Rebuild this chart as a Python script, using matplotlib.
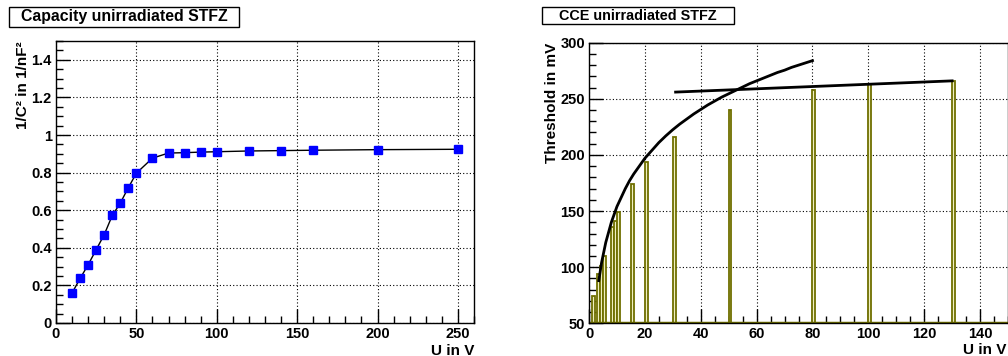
import numpy as np
import matplotlib
matplotlib.use('Agg')
import matplotlib.pyplot as plt
from matplotlib.patches import Rectangle
from matplotlib.ticker import MultipleLocator

plt.rcParams['font.family'] = ['Liberation Sans', 'DejaVu Sans']
plt.rcParams['font.weight'] = 'bold'
plt.rcParams['font.size'] = 10.5

# capacity measurement (left)
cap_u = [10, 15, 20, 25, 30, 35, 40, 45, 50, 60, 70, 80, 90, 100, 120, 140, 160, 200, 250]
cap_val = [0.16, 0.237, 0.31, 0.39, 0.47, 0.572, 0.638, 0.72, 0.797, 0.877, 0.904, 0.906,
           0.909, 0.911, 0.915, 0.917, 0.919, 0.922, 0.924]

# CCE threshold histogram (right), bin left edges and contents
cce_u = [1, 3, 4, 5, 8, 9, 10, 15, 20, 30, 50, 80, 100, 130]
cce_val = [74, 93.5, 101, 110, 136, 141, 149, 174, 194, 216, 240, 258, 263, 266]

# fitted curves
fit1_u = [3.5, 4, 4.5, 5, 6, 7, 8, 9, 10, 11.5, 13, 14.5, 16, 18, 20, 22.5, 25, 27.5, 30,
          32.5, 35, 37.5, 40, 42.5, 45, 47.5, 50, 52.5, 55, 57.5, 60, 62.5, 65, 67.5, 70,
          72.5, 75, 77.5, 80]
fit1_val = [88, 96, 104, 110, 122, 131, 140, 147, 154, 162, 170, 177, 183, 190, 197, 204,
            211, 217, 222.5, 227.5, 232, 236.5, 240.5, 244.5, 248, 251.5, 254.5, 257.5,
            260.5, 263.5, 266, 268.5, 271, 273.5, 275.5, 278, 280, 282, 284]
fit2_u = [31, 130]
fit2_val = [256, 266]

olive = '#6f6f00'
fill = '#efefc0'

fig = plt.figure(figsize=(10.08, 3.56), dpi=100)
W, H = 1008.0, 356.0


def title_box(x0, x1, y0, y1, text, size):
    fig.patches.append(Rectangle((x0 / W, 1 - y1 / H), (x1 - x0) / W, (y1 - y0) / H,
                                 transform=fig.transFigure, fc='white', ec='black', lw=1))
    fig.text((x0 + x1) / 2 / W, 1 - (y0 + y1) / 2 / H, text, ha='center', va='center',
             fontsize=size, fontweight='bold')


def style(ax):
    ax.tick_params(which='both', direction='in', top=False, right=False, pad=3,
                   labelsize=10.5)
    ax.tick_params(which='major', length=10, width=1)
    ax.tick_params(which='minor', length=5, width=1)
    ax.grid(True, which='major', ls=(0, (1, 2)), color='black', lw=0.8)
    for s in ax.spines.values():
        s.set_linewidth(1)


# left panel
ax1 = fig.add_axes([56 / W, 1 - 323 / H, 418 / W, 282 / H])
ax1.plot(cap_u, cap_val, color='black', lw=1, marker='s', ms=5.5,
         mfc='#0000ff', mec='#0000ff', zorder=3)
ax1.set_xlim(0, 260)
ax1.set_ylim(0, 1.5)
ax1.xaxis.set_major_locator(MultipleLocator(50))
ax1.xaxis.set_minor_locator(MultipleLocator(10))
ax1.yaxis.set_minor_locator(MultipleLocator(0.05))
ax1.set_yticks([0, 0.2, 0.4, 0.6, 0.8, 1, 1.2, 1.4])
ax1.set_yticklabels(['0', '0.2', '0.4', '0.6', '0.8', '1', '1.2', '1.4'])
style(ax1)
ax1.set_xlabel('U in V', loc='right', fontweight='bold', fontsize=11, labelpad=2)
ax1.set_ylabel('1/C² in 1/nF²', loc='top', fontweight='bold', fontsize=11, labelpad=1)
title_box(9, 239, 7, 27, 'Capacity unirradiated STFZ', 11.4)

# right panel
ax2 = fig.add_axes([589 / W, 1 - 323.3 / H, 419 / W, 280.6 / H])
ax2.bar(cce_u, cce_val, width=1, align='edge', color=fill, edgecolor=olive, lw=1.3, zorder=2)
ax2.axhline(50, color=olive, lw=2.5, zorder=2)
ax2.plot(fit1_u, fit1_val, color='black', lw=2, zorder=3)
ax2.plot(fit2_u, fit2_val, color='black', lw=2, zorder=3)
ax2.set_xlim(0, 150)
ax2.set_ylim(50, 300)
ax2.xaxis.set_major_locator(MultipleLocator(20))
ax2.xaxis.set_minor_locator(MultipleLocator(5))
ax2.yaxis.set_major_locator(MultipleLocator(50))
ax2.yaxis.set_minor_locator(MultipleLocator(10))
style(ax2)
ax2.set_xlabel('U in V', fontweight='bold', fontsize=11, labelpad=2)
ax2.xaxis.set_label_coords(1.0 - 2 / 419, -0.07)
ax2.xaxis.label.set_ha('right')
ax2.set_ylabel('Threshold in mV', loc='top', fontweight='bold', fontsize=11, labelpad=1)
title_box(542, 734, 7, 24, 'CCE unirradiated STFZ', 10.4)

fig.savefig('out.png', dpi=100)
